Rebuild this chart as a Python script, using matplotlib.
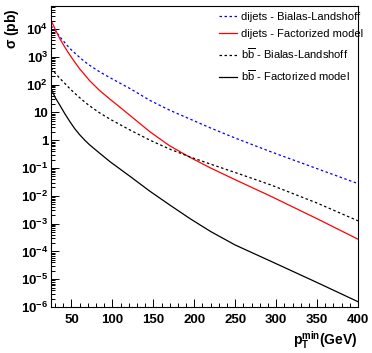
import numpy as np
import matplotlib
matplotlib.use("Agg")
import matplotlib.pyplot as plt
from matplotlib.ticker import FixedLocator, LogLocator, MultipleLocator, FuncFormatter

plt.rcParams["font.family"] = ["Liberation Sans", "DejaVu Sans"]
plt.rcParams["mathtext.fontset"] = "custom"
plt.rcParams["mathtext.rm"] = "Liberation Sans"
plt.rcParams["mathtext.it"] = "Liberation Sans:italic"
plt.rcParams["mathtext.bf"] = "Liberation Sans:bold"

# minimum pT of the jets (GeV)
pt_min = [25, 30, 36, 42, 48, 54, 60, 66, 72, 84, 97, 110, 122, 146, 170, 195, 220,
          250, 293, 350, 400]

# cross sections in pb
dijets_bl = [1.32e4, 8.9e3, 5.2e3, 3.2e3, 2.0e3, 1.38e3, 955, 676, 500, 295, 178, 110,
             71, 27, 12, 5.75, 2.75, 1.2, 0.39, 0.095, 0.0275]
dijets_fact = [2.1e4, 1.0e4, 4.4e3, 2.2e3, 1.17e3, 650, 370, 230, 141, 63, 30, 14.8,
               7.6, 2.0, 0.63, 0.24, 0.10, 0.038, 9.8e-3, 1.5e-3, 2.75e-4]
bb_bl = [398, 263, 166, 110, 72, 49, 34, 24, 17.4, 9.8, 5.75, 3.55,
         2.29, 1.0, 0.48, 0.25, 0.138, 0.069, 0.025, 5.5e-3, 1.26e-3]
bb_fact = [74, 35, 17.8, 8.9, 4.7, 2.6, 1.58, 1.02, 0.69, 0.35, 0.17, 0.089,
           0.049, 0.0145, 4.7e-3, 1.5e-3, 5.2e-4, 1.7e-4, 4.5e-5, 7.6e-6, 1.55e-6]

labels = ["dijets - Bialas-Landshoff",
          "dijets - Factorized model",
          r"b$\overline{\mathrm{b}}$ - Bialas-Landshoff",
          r"b$\overline{\mathrm{b}}$ - Factorized model"]


def ylabel_fmt(v, pos):
    e = int(round(np.log10(v)))
    if e == 0:
        return "1"
    if e == 1:
        return "10"
    return r"$\mathbf{10^{%d}}$" % e


def main():
    fig = plt.figure(figsize=(3.72, 3.53), dpi=100)
    ax = fig.add_axes([51 / 372, 1 - 307 / 353, 307 / 372, 301 / 353])

    ax.plot(pt_min, dijets_bl, color="blue", lw=0.9, ls=(0, (2, 2)), label=labels[0])
    ax.plot(pt_min, dijets_fact, color="red", lw=0.9, label=labels[1])
    ax.plot(pt_min, bb_bl, color="black", lw=0.9, ls=(0, (2, 2)), label=labels[2])
    ax.plot(pt_min, bb_fact, color="black", lw=0.9, label=labels[3])

    ax.set_yscale("log")
    ax.set_xlim(25, 400)
    ax.set_ylim(1e-6, 10 ** 4.83)

    ax.xaxis.set_major_locator(MultipleLocator(50))
    ax.xaxis.set_minor_locator(MultipleLocator(10))
    ax.yaxis.set_major_locator(FixedLocator([10.0 ** e for e in range(-6, 5)]))
    ax.yaxis.set_minor_locator(LogLocator(base=10, subs=np.arange(2, 10), numticks=20))
    ax.yaxis.set_major_formatter(FuncFormatter(ylabel_fmt))
    ax.yaxis.set_minor_formatter(FuncFormatter(lambda v, p: ""))

    ax.tick_params(which="both", direction="in", top=False, right=False, width=0.7)
    ax.tick_params(which="major", length=6)
    ax.tick_params(which="minor", length=3)
    ax.tick_params(axis="x", which="major", pad=5)
    ax.tick_params(axis="y", which="major", pad=2)
    for lab in ax.get_xticklabels() + ax.get_yticklabels():
        lab.set_fontsize(9.5)
        lab.set_fontweight("bold")
    for s in ax.spines.values():
        s.set_linewidth(0.8)

    fig.text(12 / 372, 1 - 8 / 353, r"$\mathbf{\sigma}$ (pb)", fontsize=10,
             fontweight="bold", rotation=90, ha="center", va="top")
    fig.text(358 / 372, 1 - 340 / 353, r"p$_\mathbf{T}^\mathbf{min}$(GeV)", fontsize=10,
             fontweight="bold", ha="right", va="center")

    ax.legend(loc="upper left", bbox_to_anchor=(219 / 372, 1 - 12 / 353),
              bbox_transform=fig.transFigure, frameon=False, fontsize=8,
              handlelength=1.6, handletextpad=0.35, labelspacing=0.65, borderpad=0,
              borderaxespad=0)

    fig.savefig("out.png", dpi=100)


if __name__ == "__main__":
    main()
